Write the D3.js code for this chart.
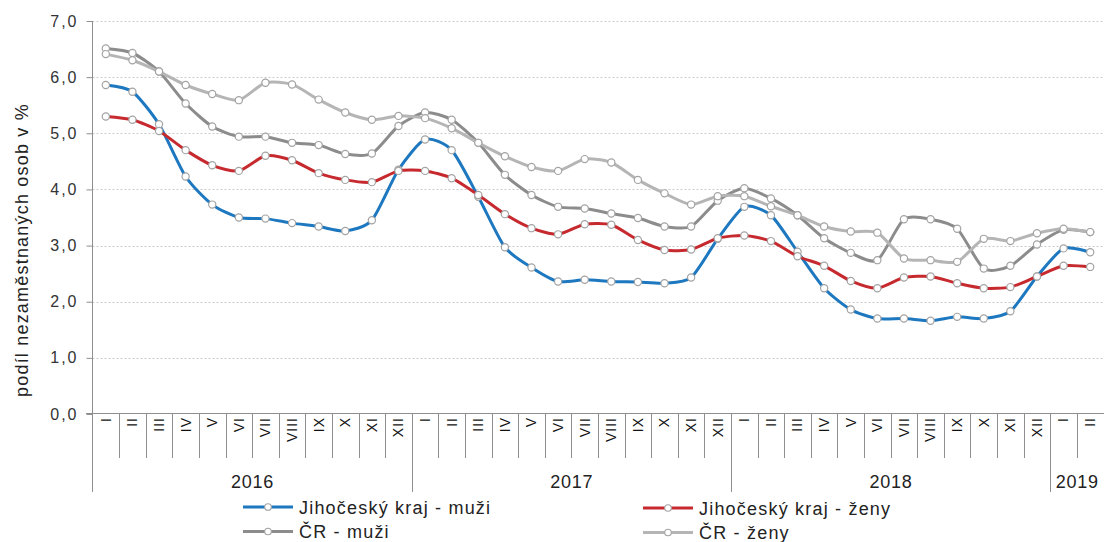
<!DOCTYPE html>
<html><head><meta charset="utf-8">
<script src="https://cdn.jsdelivr.net/npm/d3@7"></script>
<style>body{margin:0;background:#fff}svg{display:block;font-family:"Liberation Sans",Arial,sans-serif}</style>
</head><body><svg id="c" width="1104" height="542"></svg>
<script>
const monthLabels = ["I","II","III","IV","V","VI","VII","VIII","IX","X","XI","XII"];
const years = ["2016","2017","2018","2019"];
const yearMonths = [12,12,12,2];
const yTicks = [0,1,2,3,4,5,6,7];
const seriesNames = ["Jihočeský kraj - muži","Jihočeský kraj - ženy","ČR - muži","ČR - ženy"];
const jkMuzi = [5.86,5.74,5.16,4.23,3.73,3.50,3.48,3.40,3.34,3.26,3.45,4.35,
                4.89,4.70,3.87,2.97,2.61,2.36,2.39,2.36,2.35,2.33,2.43,3.12,
                3.69,3.54,2.89,2.24,1.86,1.70,1.70,1.66,1.73,1.70,1.83,2.45,
                2.95,2.88];
const jkZeny = [5.30,5.24,5.04,4.70,4.43,4.33,4.60,4.52,4.29,4.17,4.13,4.33,
                4.33,4.20,3.90,3.56,3.31,3.20,3.38,3.37,3.10,2.92,2.93,3.13,
                3.18,3.08,2.81,2.64,2.37,2.24,2.43,2.45,2.33,2.24,2.26,2.45,
                2.64,2.62];
const crMuzi = [6.51,6.43,6.10,5.53,5.12,4.94,4.94,4.83,4.79,4.63,4.64,5.13,
                5.37,5.24,4.83,4.26,3.90,3.69,3.66,3.57,3.49,3.34,3.34,3.80,
                4.02,3.84,3.54,3.13,2.87,2.74,3.47,3.47,3.30,2.59,2.64,3.02,
                3.28,3.24];
const crZeny = [6.41,6.30,6.10,5.86,5.70,5.59,5.90,5.87,5.60,5.37,5.24,5.31,
                5.27,5.09,4.83,4.59,4.40,4.33,4.54,4.48,4.17,3.93,3.73,3.88,
                3.88,3.70,3.54,3.34,3.25,3.23,2.77,2.74,2.71,3.12,3.08,3.22,
                3.30,3.24];

const colors = ["#1d78c0","#c62a2f","#8c8c8c","#b5b5b5"];
const seriesData = [jkMuzi, jkZeny, crMuzi, crZeny];

const cats = [];
years.forEach((y,i)=>{ for(let m=0;m<yearMonths[i];m++) cats.push({year:y, month:monthLabels[m], key:y+"-"+m}); });

const svg = d3.select("#c");
const x = d3.scaleBand().domain(cats.map(d=>d.key)).range([92.5,1103.5]).padding(0);
const y = d3.scaleLinear().domain([0,7]).range([414,21]);
const FONT = "Liberation Sans, Arial, sans-serif";

// gridlines
svg.append("g").selectAll("line").data(yTicks.slice(1)).join("line")
  .attr("x1",92.5).attr("x2",1104).attr("y1",d=>Math.round(y(d))+0.5).attr("y2",d=>Math.round(y(d))+0.5)
  .attr("stroke","#c9c9c9").attr("stroke-dasharray","2,2");

// y axis
const yAxis = d3.axisLeft(y).tickValues(yTicks).tickSize(6).tickPadding(0)
  .tickFormat(d=>d3.format(".1f")(d).replace(".",","));
const gy = svg.append("g").attr("transform","translate(92.5,0)").call(yAxis);
gy.select(".domain").remove();
gy.selectAll(".tick line").attr("stroke","#8f8f8f");
gy.selectAll(".tick text").attr("x",-14).attr("font-size","16px").attr("letter-spacing","2px")
  .attr("fill","#333").attr("font-family",FONT);
svg.append("line").attr("x1",92.5).attr("x2",92.5).attr("y1",21).attr("y2",492).attr("stroke","#8f8f8f");

// x axis
const xAxis = d3.axisBottom(x).tickSize(0).tickFormat(k=>cats.find(c=>c.key===k).month);
const gx = svg.append("g").attr("transform","translate(0,414)").call(xAxis);
gx.select(".domain").remove();
gx.selectAll(".tick text")
  .attr("transform","translate(0,4) rotate(-90)")
  .attr("text-anchor","end").attr("dy","0.35em").attr("y",0).attr("x",1)
  .attr("font-size","14px").attr("letter-spacing","1px").attr("fill","#111").attr("font-family",FONT);
svg.append("line").attr("x1",86).attr("x2",1104).attr("y1",413.5).attr("y2",413.5).attr("stroke","#8f8f8f");
// category separators
svg.append("g").selectAll("line").data(cats.slice(1)).join("line")
  .attr("x1",d=>Math.round(x(d.key))+0.5).attr("x2",d=>Math.round(x(d.key))+0.5)
  .attr("y1",414).attr("y2",(d)=>d.month==="I"?492:458).attr("stroke","#8f8f8f");
// year labels
let idx=0;
const yearPos = years.map((yr,i)=>{ const a=x(cats[idx].key); idx+=yearMonths[i]; const b=x(cats[idx-1].key)+x.bandwidth(); return {yr, c:(a+b)/2}; });
svg.append("g").selectAll("text").data(yearPos).join("text")
  .attr("x",d=>d.c+0.4).attr("y",488).attr("text-anchor","middle")
  .attr("font-size","18px").attr("letter-spacing","0.8px").attr("fill","#222").text(d=>d.yr);

// y title
svg.append("text").attr("transform","translate(28,250) rotate(-90)").attr("text-anchor","middle")
  .attr("font-size","18px").attr("letter-spacing","1.2px").attr("fill","#222").text("podíl nezaměstnaných osob v %");

// lines
const line = d3.line().x((d,i)=>x(cats[i].key)+x.bandwidth()/2).y(d=>y(d)).curve(d3.curveCardinal.tension(0.3));
seriesData.forEach((s,si)=>{
  svg.append("path").datum(s).attr("d",line).attr("fill","none").attr("stroke",colors[si]).attr("stroke-width",3);
  svg.append("g").selectAll("circle").data(s).join("circle")
    .attr("cx",(d,i)=>x(cats[i].key)+x.bandwidth()/2).attr("cy",d=>y(d)).attr("r",3.6)
    .attr("fill","#fff").attr("stroke","#a3a3a3").attr("stroke-width",1.2);
});

// legend
const legPos = [[243,507],[643,508],[243,531.5],[643,532.5]];
seriesNames.forEach((n,i)=>{
  const [lx,ly]=legPos[i];
  const g = svg.append("g");
  g.append("line").attr("x1",lx).attr("x2",lx+50).attr("y1",ly).attr("y2",ly).attr("stroke",colors[i]).attr("stroke-width",3);
  g.append("circle").attr("cx",lx+25).attr("cy",ly).attr("r",3.3).attr("fill","#fff").attr("stroke","#a3a3a3").attr("stroke-width",1.1);
  g.append("text").attr("x",lx+56).attr("y",ly+6.5).attr("font-size","18px").attr("letter-spacing","1.2px").attr("fill","#222").text(n);
});
</script></body></html>
